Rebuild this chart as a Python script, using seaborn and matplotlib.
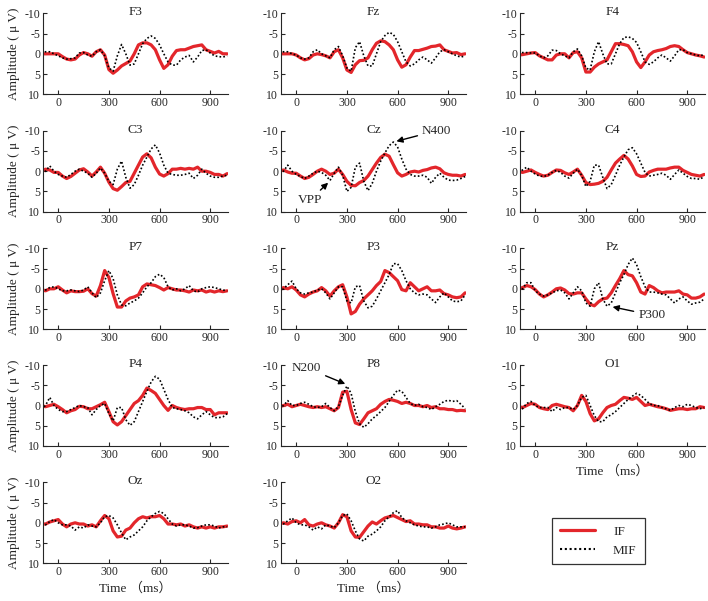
import matplotlib
matplotlib.use("Agg")
import matplotlib.pyplot as plt
import seaborn as sns
from matplotlib.lines import Line2D

# sampling grid (ms)
time_ms = list(range(-100, 1001, 25))

F3_IF = [0, 0, 0, 0, 0, 0.7, 1.3, 1.5, 1.3, 0.3, -0.3, 0, 0.6, -0.5, -1, 0.3, 3.9, 4.8, 4, 3, 2.4, 1.8, 0, -2.2, -2.7, -2.7, -2.2, -1, 1.5, 3.6, 2.7, 0.6, -0.8, -1, -1, -1.4, -1.8, -2, -2.2, -1, -0.6, -0.2, -0.6, 0, 0]
F3_MIF = [0, -0.5, -0.5, 0, 0.5, 1, 1.3, 1.2, 1, -0.2, -0.3, 0.3, 0.6, -0.5, -1, 0.5, 3.5, 4.3, 0.5, -2.3, 0, 2.8, 2.5, 0, -2.5, -3.8, -4.4, -3.8, -2.2, 0, 2, 2.8, 2.8, 1.5, 0.8, 0.4, 2, 0.8, -0.8, -1, -0.2, 0.5, 0.7, 0.8, 0.5]
Fz_IF = [0, 0, 0, 0, 0.3, 1, 1.5, 1.2, 0.3, 0, 0.2, 0.5, 1, -0.5, -1, 1, 4, 4.6, 2.7, 1.7, 1.6, 1, -1, -2.6, -3.2, -3, -2.2, -1, 1.5, 3.3, 2.7, 0.8, -0.8, -0.8, -1.1, -1.4, -1.8, -1.9, -2.2, -1, -0.6, -0.2, -0.3, 0.2, 0]
Fz_MIF = [0, -0.5, -0.5, 0, 0.3, 1, 1.3, 1, -0.5, -1, 0, 0.5, 1, -1, -1.8, 0.5, 3.5, 4.3, -1.5, -3, 0.5, 3, 3, 0, -3, -4.5, -5.3, -4.8, -3, -0.5, 2, 3, 2.5, 1.5, 0.8, 1.5, 2.3, 1, -0.5, -1, -0.5, 0, 0.5, 0.8, 0.5]
F4_IF = [0.3, 0.2, 0, -0.2, -0.3, 0.5, 1, 1.5, 1.5, 0.3, 0, 0, 1, -0.3, -0.5, 1, 4.5, 4.5, 3.3, 2.5, 2, 1.5, -0.5, -2.5, -2.5, -2.3, -2, -0.5, 2, 3.4, 2, 0.3, -0.5, -0.8, -1, -1.3, -1.8, -2, -1.8, -1, -0.3, 0, 0.3, 0.5, 0.8]
F4_MIF = [0, -0.3, -0.3, -0.2, -0.2, 0.5, 1, 0.5, -0.9, -0.8, 0, 0.5, 1, -0.5, -1.2, 0.5, 3.5, 4, -0.5, -3, 0, 2.5, 2.5, 0, -2.5, -4, -4.2, -3.8, -2.8, -0.5, 2, 2.6, 2, 1, 0.3, 1, 1.8, 0.5, -1, -1, -0.3, 0, 0.3, 0.5, 0.2]
C3_IF = [0, -0.5, -0.3, 0.3, 0.3, 1.2, 1.8, 1.3, 0.5, -0.3, -0.6, 0.2, 1.2, 0.2, -1, 0.5, 2.7, 4.3, 4.7, 3.8, 2.8, 2.5, 0.5, -1.5, -3.5, -4.3, -3.3, -1, 0.7, 1.2, 0.6, -0.5, -0.5, -0.7, -0.5, -0.7, -0.5, -1, 0, 0, 0.3, 0.8, 0.8, 1.2, 0.6]
C3_MIF = [0.5, 0, -1.3, 0, 0.8, 1.2, 1.5, 0.8, 0, -0.5, 0, 0.5, 1.5, 0.5, -0.8, 0.5, 2.5, 3.3, -0.5, -2.5, 1.5, 4.2, 3.3, 1, -1.5, -3.5, -5.5, -6.5, -4.5, -1.5, 0.5, 0.8, 1, 1, 0.8, 0.5, 1.8, 1, -0.5, 0.5, 1.2, 1.5, 1.5, 1.2, 1]
Cz_IF = [0, -0.3, 0.2, 0.5, 0.5, 1.2, 1.8, 1.5, 0.8, 0, -0.5, 0, 0.8, 0.5, -0.5, 0.8, 2.5, 3.5, 3.6, 2.8, 2.3, 1.2, -0.4, -2, -3.4, -4.2, -3.7, -1.6, 0.4, 1.2, 0.8, 0.2, 0, 0.2, -0.2, -0.4, -0.8, -1, -0.6, 0.4, 0.8, 1, 1, 1.2, 0.8]
Cz_MIF = [0.5, 0, -1.5, 0, 0.8, 1.3, 1.8, 1.2, 0.5, 0, 0.3, 1, 2.3, 0.5, -1, 1, 5, 4, -1, -2, 2.5, 4.8, 3, 0, -2.5, -4.5, -6.3, -7.2, -6, -3, -0.5, 0.8, 1.2, 1.2, 1, 1.5, 3, 1.5, 0.5, 1.5, 2.2, 2.3, 2.2, 1.8, 1.3]
C4_IF = [0, 0.3, 0, -0.3, 0.3, 0.8, 1.2, 1, 0.3, -0.3, -0.2, 0.4, 0.8, 0.2, -0.5, 1, 2.8, 3.3, 3.2, 3, 2.5, 1.5, -0.3, -2, -3, -3.9, -3, -1.3, 0.8, 1.3, 1.2, 0.2, -0.2, -0.5, -0.5, -0.5, -0.8, -1, -1, -0.2, 0.3, 0.8, 1, 1.2, 0.8]
C4_MIF = [0.3, -0.3, -1, 0, 0.7, 1.2, 1.3, 1, 0.3, -0.2, 0.3, 1.2, 1.7, 0.5, -0.5, 1, 3.8, 2.5, -1.5, -1.5, 1.5, 4.3, 3.3, 1, -1.5, -3.5, -5.3, -5.8, -4.3, -2, 0.3, 1.2, 1, 0.8, 0.5, 1, 2, 0.8, -0.3, 0.5, 1.3, 1.8, 1.8, 2, 1.3]
P7_IF = [0.2, 0.5, 0, 0, -0.5, 0.3, 1, 0.5, 0.7, 0.7, 0.6, 0, 1.2, 1.8, -0.8, -4.5, -2.8, 1.2, 4.5, 4.5, 3, 2.3, 2, 1.5, -0.5, -1.2, -1, -0.8, -0.3, 0.3, -0.3, 0, 0.3, 0.3, 0.5, 0.8, 0.3, 0.5, 0.3, 0.8, 0.5, 0.8, 0.5, 0.7, 0.5]
P7_MIF = [0.5, 0.3, -0.3, -0.5, 0, 0.5, 0.5, 0.3, 0.5, 0.7, 0.3, -0.5, 1, 2.2, 1, -2, -4.5, -2.5, 1.5, 4, 4.2, 3.5, 3, 2.3, 1, -0.5, -1.5, -3, -3.6, -2.8, -0.5, 0.3, 0, 0.5, 0, -0.8, 0.5, 0.8, 0, -0.3, -0.5, -0.3, 0, 0.3, 0.5]
P3_IF = [0.3, -0.3, 0, -0.5, 0.3, 1.5, 2, 1.3, 0.8, 0.5, -0.3, 0.5, 1.8, 0.5, -0.5, -1, 2, 6.2, 5.6, 3.8, 2.5, 1.5, 0.5, -0.8, -1.8, -4.5, -4, -3, -2, 0.2, 0.5, -1.5, -0.5, 0.5, 0, -0.5, 0.5, 0.5, 0.3, 1.2, 1.5, 2, 2.2, 2, 1]
P3_MIF = [0.8, 0, -1, -1.9, 0, 1, 1.3, 1, 0.8, 0.3, 0, 1, 2.5, 1, -0.5, -0.5, 3, 3.5, -0.5, -0.8, 3, 4.7, 4.3, 2.5, 0.5, -1.5, -3.5, -6.2, -6.2, -4.5, -2, 0, 1, 1.5, 1.3, 1.5, 2.5, 3.4, 2, 1, 2, 3, 3.2, 3, 1.5]
Pz_IF = [0, -0.3, -0.8, -0.5, 0.2, 1.3, 2, 1.5, 0.8, 0, -0.2, 0.3, 1.2, 1.3, 1, 1, 2.5, 3.8, 4.2, 3.2, 2.5, 2.3, 1, -0.8, -2.5, -4.5, -3.5, -3.2, -1.5, 0.8, 1.3, -0.8, -0.3, 0.5, 1, 0.8, 0.8, 0.8, 0.5, 1.3, 1.5, 2.3, 2.3, 2, 1.3]
Pz_MIF = [0.5, 0, -1.5, -1.5, 0.5, 1.3, 1.8, 1.5, 1, 0.5, 0.3, 1, 2.5, 1, -0.5, 0.5, 3.5, 4.3, 0, -1.5, 2.5, 4.3, 3.5, 1, -1.5, -3.5, -6, -7.6, -6, -3, -0.5, 0.8, 0.8, 1, 1.3, 1.5, 2.5, 3.5, 2.5, 2, 3, 3.8, 3.5, 3.3, 2.5]
P4_IF = [0, 0.3, 0, -0.3, 0.3, 1, 1.8, 1.3, 1, 0.2, 0.3, 0.8, 0.8, 0.3, -0.2, -0.8, 1.5, 4, 4.8, 4, 2.5, 1, -0.5, -1.2, -2.5, -4.3, -3.7, -3, -1.5, 0, 1.2, 0, 0.5, 0.8, 1, 0.8, 0.8, 0.5, 0.5, 1, 1, 2.3, 1.8, 1.8, 1.8]
P4_MIF = [1, 0, -2, 0, 1, 1.5, 1.5, 1, 0.5, 0, 0.3, 0.5, 2.3, 1, 0, -0.5, 2, 3.8, 0.5, 0.5, 3.5, 4.9, 4, 1.5, -1, -3.5, -5.8, -7.2, -6.5, -4, -1.5, 0.5, 0.8, 1, 1.3, 1.8, 2.8, 3.3, 2.3, 1.5, 2.3, 3, 3, 2.8, 2]
P8_IF = [0.3, 0, -0.3, 0.3, 0, -0.3, 0, 0.3, 0.5, 0.3, 0.5, 0.3, 0.8, 1.3, 0.5, -3.3, -3.5, 1, 4.3, 4.7, 3.3, 1.8, 1.3, 0.8, -0.3, -1, -1.5, -1.3, -1, -0.5, -0.8, -0.5, 0, 0, 0.3, 0, 0.5, 0.3, 0.8, 0.8, 1, 1, 1.3, 1.2, 1.3]
P8_MIF = [0.8, 0, -1.2, 0, 0, -0.5, -0.8, -0.3, 0.3, 0.5, 0.3, -0.5, 0.5, 1.3, 0.3, -2.5, -4.8, -3, 1.5, 4.5, 5.4, 4.5, 3.3, 2.5, 1.5, 0.5, -1, -2.5, -3.8, -3.5, -2, -0.5, 0, -0.3, 0.3, 0.5, 1, 0.3, -0.3, -1, -1.3, -1, -1.2, -0.3, 0.8]
O1_IF = [0.3, 0.5, 0, -0.5, -0.3, 0.5, 0.8, 1, 0, -0.3, 0, 0.3, 0.5, 1.3, 0, -2.5, -1, 2, 3.8, 3.3, 1.8, 0.5, 0, -0.3, -1.2, -2, -1.8, -1.5, -2, -1, 0, -0.3, 0, 0.3, 0.5, 0.8, 1.2, 1, 0.8, 0.8, 1, 0.8, 0.8, 0.3, 0.5]
O1_MIF = [0.5, 0.8, -0.5, -1, 0, 0.5, 0.5, 0.5, 1.5, 0.5, 1, 0.5, 0.5, 1, 0, -2, -2.5, 0, 2.5, 4, 4, 2.8, 2.3, 1.5, 0.5, -0.5, -1.5, -2.3, -3, -2.5, -1.5, -0.5, 0, 0, 0.5, 0.8, 1.2, 0.5, 0, 0.3, -0.3, 0, 0.5, 0.8, 0.5]
Oz_IF = [0.3, 0.3, -0.2, -0.5, -0.8, 0.3, 1, 0.3, 0, 0.3, 0.3, 0.8, 0.5, 1, -0.5, -1.8, -1, 2, 3.5, 3.3, 1.8, 1.3, 0, -1, -1.5, -1.2, -1.5, -1.5, -1.8, -1, 0.3, 0.3, 0.5, 0.3, 0.8, 0.5, 1, 1.3, 1, 1.3, 1, 1.3, 1, 1, 0.8]
Oz_MIF = [0.5, 0.5, -0.3, -0.8, 0, 0.5, 0.5, 0.8, 1.8, 1, 1.3, 0.5, 0.8, 1, 0, -1.5, -1.8, -1.2, 0.5, 2.5, 4.2, 3.5, 3, 2, 1, -0.5, -1.5, -2.3, -2.8, -2.3, -1, 0.3, 0.8, 0.5, 0.5, 0.8, 1.3, 1.2, 0.8, 0.5, 0.5, 0.8, 1.3, 1, 1]
O2_IF = [0.3, 0, 0.3, -0.3, -0.5, 0, -0.8, 0.5, 0.8, 0.3, 0, 0.5, 0.8, 1.3, 0, -2, -1.5, 2, 3.5, 3.6, 2.2, 0.8, -0.2, 0.3, -0.5, -1.2, -1.5, -1.8, -1.3, -0.8, -0.3, -0.5, 0.3, 0.3, 0.5, 0.5, 1, 1, 1.3, 1.3, 0.8, 1.3, 1.5, 1.3, 1]
O2_MIF = [0.5, 0.3, -0.5, -1.2, 0, 0.5, 0.5, 1, 1.8, 1, 1.5, 0.5, 0.8, 1.2, 0, -1.8, -2.2, -0.5, 2, 4, 4.5, 3.3, 2.8, 2, 1, -0.5, -1.5, -2.5, -3, -1.3, -0.5, 0, 0.5, 0.8, 1, 1, 1.3, 1, 0.5, 0.3, 0, 0.5, 1, 1, 1]

channels = ["F3", "Fz", "F4", "C3", "Cz", "C4", "P7", "P3", "Pz", "P4", "P8", "O1", "Oz", "O2"]
if_series = [F3_IF, Fz_IF, F4_IF, C3_IF, Cz_IF, C4_IF, P7_IF, P3_IF, Pz_IF, P4_IF, P8_IF, O1_IF, Oz_IF, O2_IF]
mif_series = [F3_MIF, Fz_MIF, F4_MIF, C3_MIF, Cz_MIF, C4_MIF, P7_MIF, P3_MIF, Pz_MIF, P4_MIF, P8_MIF, O1_MIF, Oz_MIF, O2_MIF]

sns.set_style("ticks")
plt.rcParams['font.family'] = ['Liberation Serif', 'Noto Sans CJK SC', 'DejaVu Sans']
plt.rcParams['font.size'] = 8

RED = '#e3262b'
W, H = 708, 601
fig = plt.figure(figsize=(W / 100, H / 100), dpi=100)

col_left = [43, 281, 520]   # px
row_top = [13.3, 130.7, 248.3, 365, 482.3]  # px
ax_w, ax_h = 185, 81

xlabel_panels = ["Oz", "O2", "O1"]
axes = {}

for i, name in enumerate(channels):
    r, c = i // 3, i % 3
    ax = fig.add_axes([col_left[c] / W, 1 - (row_top[r] + ax_h) / H, ax_w / W, ax_h / H])
    sns.lineplot(x=time_ms, y=if_series[i], ax=ax, color=RED, linewidth=2.3)
    sns.lineplot(x=time_ms, y=mif_series[i], ax=ax, color='black', linewidth=1.2,
                 linestyle=(0, (1, 1.3)))
    ax.set_xlim(-90, 1005)
    ax.set_ylim(10, -10)
    ax.set_xticks([0, 300, 600, 900])
    ax.set_yticks([-10, -5, 0, 5, 10])
    ax.set_yticklabels(["-10", "-5", "0", "5", "10"])
    ax.tick_params(direction='in', length=3, width=0.8, labelsize=8.5, pad=2)
    sns.despine(ax=ax)
    for s in ['left', 'bottom']:
        ax.spines[s].set_linewidth(0.8)
    ax.text(0.5, 1.01, name, transform=ax.transAxes, ha='center', va='center', fontsize=9.5)
    if c == 0:
        ax.set_ylabel("Amplitude ( μ V)", fontsize=9.5, labelpad=3)
    else:
        ax.set_ylabel("")
    if name in xlabel_panels:
        ax.set_xlabel("Time （ms）", fontsize=9.5, labelpad=3)
    else:
        ax.set_xlabel("")
    axes[name] = ax

arrow = dict(arrowstyle='-|>', color='black', lw=1.0, mutation_scale=9, shrinkA=1, shrinkB=1)
axes["Cz"].annotate("N400", xy=(585, -7.3), xytext=(745, -10), ha='left', va='center',
                    fontsize=9.5, arrowprops=arrow, annotation_clip=False)
axes["Cz"].annotate("VPP", xy=(195, 2.6), xytext=(80, 7.2), ha='center', va='center',
                    fontsize=9.5, arrowprops=arrow, annotation_clip=False)
axes["Pz"].annotate("P300", xy=(450, 4.4), xytext=(610, 6.5), ha='left', va='center',
                    fontsize=9.5, arrowprops=arrow, annotation_clip=False)
axes["P8"].annotate("N200", xy=(298, -5.2), xytext=(60, -9.3), ha='center', va='center',
                    fontsize=9.5, arrowprops=arrow, annotation_clip=False)

handles = [Line2D([], [], color=RED, linewidth=2.3),
           Line2D([], [], color='black', linewidth=1.5, linestyle=(0, (1, 1.3)))]
leg = fig.legend(handles, ["IF", "MIF"], loc='center',
                 bbox_to_anchor=(598.5 / W, 1 - 541 / H), fontsize=9.5,
                 frameon=True, fancybox=False, edgecolor='black',
                 handlelength=2.6, handletextpad=1.4, borderpad=0.6, labelspacing=0.5)
leg.get_frame().set_linewidth(0.9)

fig.savefig("out.png", dpi=100)
